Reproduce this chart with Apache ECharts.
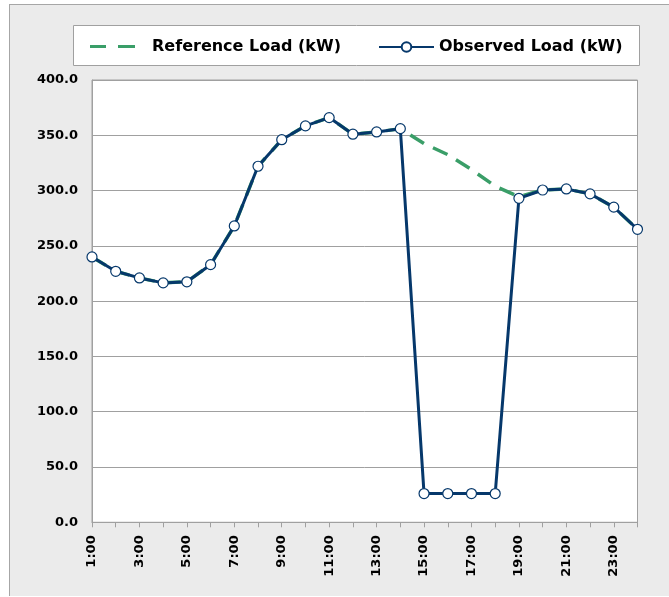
<!DOCTYPE html>
<html>
<head>
<meta charset="utf-8">
<script src="https://cdn.jsdelivr.net/npm/echarts@6/dist/echarts.min.js"></script>
<style>
html,body{margin:0;padding:0;background:#fff;}
#chart{width:669px;height:597px;}
</style>
</head>
<body>
<div id="chart"></div>
<script>
const hours = ['1:00','2:00','3:00','4:00','5:00','6:00','7:00','8:00','9:00','10:00','11:00','12:00',
  '13:00','14:00','15:00','16:00','17:00','18:00','19:00','20:00','21:00','22:00','23:00','24:00'];
const referenceLoad = [240, 227, 221, 216.5, 217.5, 233, 268, 322, 346, 358.5, 366, 351,
  353, 356, 342.5, 332.5, 319, 304, 294.5, 300.5, 301.5, 297, 285, 265];
const observedLoad = [240, 227, 221, 216.5, 217.5, 233, 268, 322, 346, 358.5, 366, 351,
  353, 356, 26, 26, 26, 26, 293, 300.5, 301.5, 297, 285, 265];
const yTicks = { min: 0, max: 400, interval: 50 };

const FONT = 'DejaVu Sans';
const chart = echarts.init(document.getElementById('chart'));
chart.setOption({
  backgroundColor: '#ffffff',
  animation: false,
  graphic: [
    { type: 'rect', z: -10, silent: true, shape: { x: 9, y: 4, width: 670, height: 592 },
      style: { fill: '#ebebeb' } },
    { type: 'line', z: -9, silent: true, shape: { x1: 9, y1: 4.5, x2: 669, y2: 4.5 },
      style: { stroke: '#a6a6a6', lineWidth: 1 } },
    { type: 'line', z: -9, silent: true, shape: { x1: 9.5, y1: 4, x2: 9.5, y2: 596 },
      style: { stroke: '#a6a6a6', lineWidth: 1 } },
    { type: 'rect', z: 1, silent: true, shape: { x: 73.5, y: 25.5, width: 566, height: 40 },
      style: { fill: '#ffffff', stroke: '#a0a0a0', lineWidth: 1 } }
  ],
  legend: [
    { data: [{ name: 'Reference Load (kW)', icon: 'path://M0,0H16V3H0Z M28,0H45V3H28Z' }],
      left: 90, top: 38.5, padding: 0,
      itemWidth: 45, itemHeight: 15,
      textStyle: { fontFamily: FONT, fontWeight: 'bold', fontSize: 16, color: '#000', padding: [0, 0, 0, 12] } },
    { data: ['Observed Load (kW)'], left: 378, top: 39, padding: 0,
      itemWidth: 55, itemHeight: 12,
      textStyle: { fontFamily: FONT, fontWeight: 'bold', fontSize: 16, color: '#000' } }
  ],
  grid: { left: 92, top: 80, width: 545.5, height: 442.3, show: true,
    backgroundColor: '#ffffff', borderColor: '#a0a0a0', borderWidth: 1 },
  xAxis: {
    type: 'category', data: hours, boundaryGap: false,
    axisLine: { lineStyle: { color: '#a0a0a0', width: 1 } },
    axisTick: { show: true, interval: 0, length: 5, lineStyle: { color: '#a0a0a0' } },
    axisLabel: { interval: 1, rotate: 90, margin: 13, fontFamily: FONT, fontWeight: 'bold',
      fontSize: 13, color: '#000' },
    splitLine: { show: false }
  },
  yAxis: {
    type: 'value', min: yTicks.min, max: yTicks.max, interval: yTicks.interval,
    axisLine: { show: true, lineStyle: { color: '#a0a0a0', width: 1 } },
    axisTick: { show: false },
    axisLabel: { margin: 14, fontFamily: FONT, fontWeight: 'bold', fontSize: 13, color: '#000',
      formatter: v => v.toFixed(1) },
    splitLine: { lineStyle: { color: '#a0a0a0', width: 1 } }
  },
  series: [
    { name: 'Reference Load (kW)', type: 'line', data: referenceLoad, symbol: 'none',
      lineStyle: { color: '#3a9e68', width: 3.5, type: [16, 10] },
      itemStyle: { color: '#3a9e68' } },
    { name: 'Observed Load (kW)', type: 'line', data: observedLoad, symbol: 'circle', symbolSize: 10,
      lineStyle: { color: '#06386b', width: 3 },
      itemStyle: { color: '#ffffff', borderColor: '#06386b', borderWidth: 1.2 } }
  ]
});
</script>
</body>
</html>
